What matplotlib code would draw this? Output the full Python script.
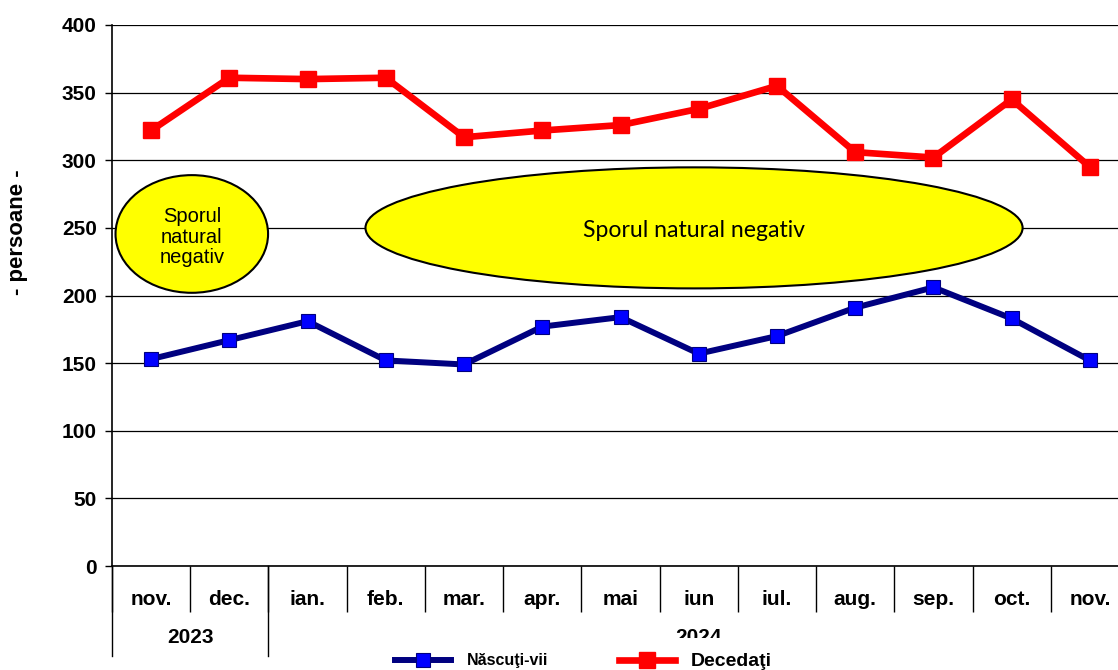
import matplotlib
matplotlib.use('Agg')
import matplotlib.pyplot as plt
from matplotlib.patches import Ellipse, Rectangle

months = ['nov.', 'dec.', 'ian.', 'feb.', 'mar.', 'apr.', 'mai', 'iun', 'iul.',
          'aug.', 'sep.', 'oct.', 'nov.']
years = ['2023', '2024']
year_spans = [2, 11]
nascuti = [153, 167, 181, 152, 149, 177, 184, 157, 170, 191, 206, 183, 152]
decedati = [322, 361, 360, 361, 317, 322, 326, 338, 355, 306, 302, 345, 295]

plt.rcParams['font.family'] = ['Liberation Sans', 'DejaVu Sans']

fig = plt.figure(figsize=(11.18, 6.70), dpi=100)
ax = fig.add_axes([112 / 1118, 104 / 670, 1017 / 1118, 541 / 670])

x = [i + 0.5 for i in range(len(months))]
l1, = ax.plot(x, nascuti, color='#000080', lw=4.3, marker='s', ms=10,
              mfc='#0000FF', mec='#000080', mew=0.8, zorder=4, label='Născuţi-vii')
l2, = ax.plot(x, decedati, color='#FF0000', lw=4.8, marker='s', ms=11,
              mfc='#FF0000', mec='#FF0000', zorder=4, label='Decedaţi')

ax.set_xlim(0, len(months))
ax.set_ylim(0, 400)
ax.set_yticks(range(0, 401, 50))
ax.yaxis.grid(True, color='black', lw=0.9)
ax.set_axisbelow(True)
for lbl in ax.get_yticklabels():
    lbl.set_fontweight('bold')
ax.tick_params(axis='y', labelsize=15, length=5, width=1, pad=6)
ax.spines['top'].set_visible(False)
ax.spines['right'].set_visible(False)
ax.spines['left'].set_linewidth(1.2)
ax.spines['bottom'].set_linewidth(1.2)

# category labels and separators
ax.set_xticks(range(len(months) + 1))
ax.set_xticklabels([])
ax.tick_params(axis='x', length=33, width=1)
ax.set_xticks(x, minor=True)
ax.set_xticklabels(months, minor=True, fontsize=15, fontweight='bold')
ax.tick_params(axis='x', which='minor', length=0, pad=17)

# year row
trans = ax.get_xaxis_transform()
start = 0
for yr, span in zip(years, year_spans):
    ax.plot([start, start], [0, -0.166], transform=trans, color='black',
            lw=1, clip_on=False)
    ax.text(start + span / 2, -0.133, yr, transform=trans, ha='center',
            va='center', fontsize=15, fontweight='bold')
    start += span
ax.plot([start, start], [0, -0.166], transform=trans, color='black',
        lw=1, clip_on=False)

# ellipses
e1 = Ellipse((1.02, 245.5), 1.95, 87, facecolor='#FFFF00', edgecolor='black',
             lw=1.5, zorder=3)
ax.add_patch(e1)
ax.text(1.02, 243, 'Sporul\nnatural\nnegativ', ha='center', va='center',
        fontsize=14.5, linespacing=1.1, zorder=5)
e2 = Ellipse((7.44, 250), 8.4, 89.5, facecolor='#FFFF00', edgecolor='black',
             lw=1.5, zorder=3)
ax.add_patch(e2)
ax.text(7.44, 248, 'Sporul natural negativ', ha='center', va='center',
        fontsize=16.6, family=['Lato', 'DejaVu Sans'], zorder=5)

fig.text(18 / 1118, 1 - 232 / 670, '- persoane -', rotation=90, ha='center',
         va='center', fontsize=16, fontweight='bold')

# white legend area hides the lower part of "2024"
fig.add_artist(Rectangle((290 / 1118, 0), 1, 32 / 670, transform=fig.transFigure,
                         facecolor='white', edgecolor='none', zorder=4))

leg = fig.legend(handles=[l1, l2], loc='center left',
                 bbox_to_anchor=(381 / 1118, 1 - 661 / 670),
                 ncol=2, frameon=False, handlelength=3.5, handletextpad=1.0,
                 columnspacing=4.4, prop={'weight': 'bold', 'size': 11.5})
leg.set_zorder(6)
leg.get_texts()[1].set_fontsize(14)

fig.savefig('out.png', dpi=100)
